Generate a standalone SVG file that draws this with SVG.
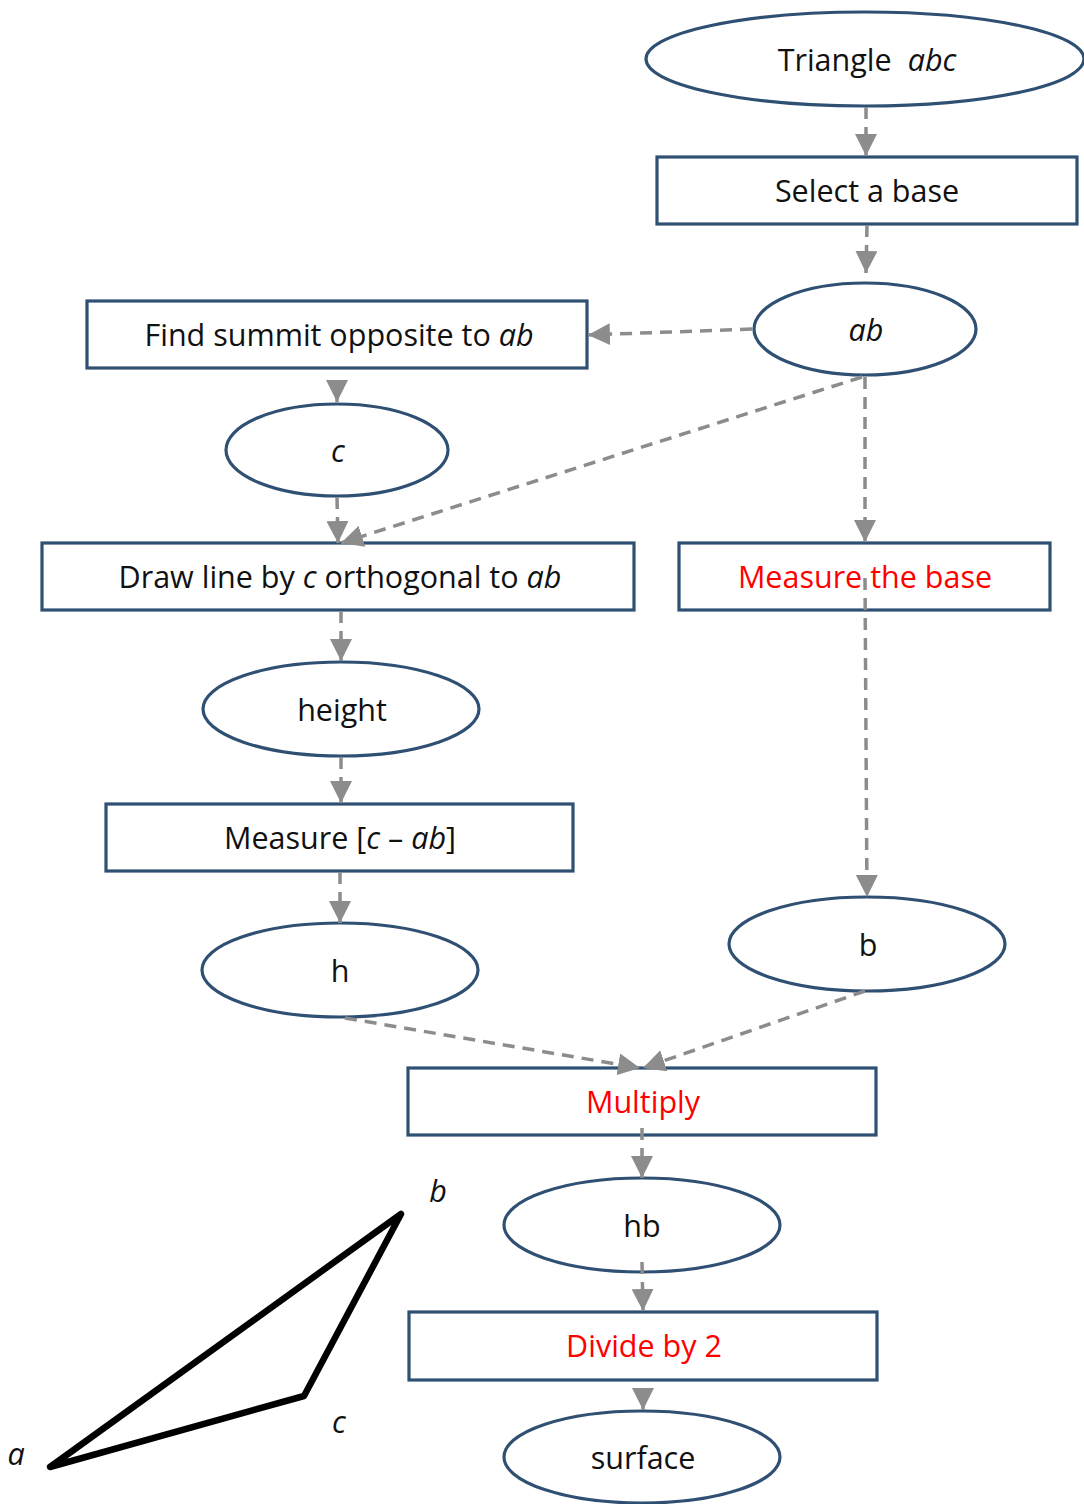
<svg xmlns="http://www.w3.org/2000/svg" width="1084" height="1504" viewBox="0 0 1084 1504">
  <style>
    .node { fill: #ffffff; stroke: #2f5073; stroke-width: 3.2; }
    .lbl { font-family: "Open Sans", Lato, "Liberation Sans", sans-serif; font-size: 30.5px; fill: #111111; text-anchor: middle; }
    .red { fill: #ff0000; }
    .it { font-style: italic; }
    .edge { fill: none; stroke: #8c8c8c; stroke-width: 3.5; stroke-dasharray: 12 8; marker-end: url(#arrow); }
    .tri { fill: none; stroke: #000000; stroke-width: 6.5; stroke-linejoin: round; stroke-linecap: round; }
  </style>
  <defs>
    <marker id="arrow" markerUnits="userSpaceOnUse" markerWidth="22" markerHeight="22" viewBox="0 0 22 22" refX="22" refY="11" orient="auto">
      <path d="M0,0 L22,11 L0,22 z" fill="#8c8c8c"/>
    </marker>
  </defs>

  <!-- nodes -->
  <g id="n-triangle">
    <ellipse class="node" cx="865" cy="59" rx="219" ry="47"/>
    <text class="lbl" x="867" y="71">Triangle<tspan class="it" dx="16">abc</tspan></text>
  </g>
  <g id="n-select">
    <rect class="node" x="657" y="157" width="420" height="67"/>
    <text class="lbl" x="867" y="202">Select a base</text>
  </g>
  <g id="n-ab">
    <ellipse class="node" cx="865" cy="329" rx="111" ry="46"/>
    <text class="lbl it" x="866" y="341">ab</text>
  </g>
  <g id="n-find">
    <rect class="node" x="87" y="301" width="500" height="67"/>
    <text class="lbl" x="339" y="346">Find summit opposite to <tspan class="it">ab</tspan></text>
  </g>
  <g id="n-c">
    <ellipse class="node" cx="337" cy="450" rx="111" ry="46"/>
    <text class="lbl it" x="338" y="462">c</text>
  </g>
  <g id="n-drawline">
    <rect class="node" x="42" y="543" width="592" height="67"/>
    <text class="lbl" x="340" y="588">Draw line by <tspan class="it">c</tspan> orthogonal to <tspan class="it">ab</tspan></text>
  </g>
  <g id="n-measurebase">
    <rect class="node" x="679" y="543" width="371" height="67"/>
    <text class="lbl red" x="865" y="588">Measure the base</text>
  </g>
  <g id="n-height">
    <ellipse class="node" cx="341" cy="709" rx="138" ry="47"/>
    <text class="lbl" x="342" y="721">height</text>
  </g>
  <g id="n-measureca">
    <rect class="node" x="106" y="804" width="467" height="67"/>
    <text class="lbl" x="340" y="849">Measure [<tspan class="it">c</tspan> – <tspan class="it">ab</tspan>]</text>
  </g>
  <g id="n-h">
    <ellipse class="node" cx="340" cy="970" rx="138" ry="47"/>
    <text class="lbl" x="340" y="982">h</text>
  </g>
  <g id="n-b">
    <ellipse class="node" cx="867" cy="944" rx="138" ry="47"/>
    <text class="lbl" x="868" y="956">b</text>
  </g>
  <g id="n-multiply">
    <rect class="node" x="408" y="1068" width="468" height="67"/>
    <text class="lbl red" x="643" y="1113">Multiply</text>
  </g>
  <g id="n-hb">
    <ellipse class="node" cx="642" cy="1225" rx="138" ry="47"/>
    <text class="lbl" x="642" y="1237">hb</text>
  </g>
  <g id="n-divide">
    <rect class="node" x="409" y="1312" width="468" height="68"/>
    <text class="lbl red" x="644" y="1357">Divide by 2</text>
  </g>
  <g id="n-surface">
    <ellipse class="node" cx="642" cy="1457" rx="138" ry="46"/>
    <text class="lbl" x="643" y="1469">surface</text>
  </g>

  <!-- connectors -->
  <g id="connectors">
    <line class="edge" x1="866" y1="107" x2="866" y2="156"/>
    <line class="edge" x1="867" y1="225" x2="866" y2="273"/>
    <line class="edge" x1="752" y1="329" x2="588" y2="335"/>
    <line class="edge" x1="337" y1="390" x2="337" y2="402"/>
    <line class="edge" x1="337" y1="497" x2="338" y2="543"/>
    <line class="edge" x1="862" y1="377" x2="341" y2="543"/>
    <line class="edge" x1="865" y1="377" x2="865" y2="542"/>
    <line class="edge" x1="341" y1="611" x2="341" y2="661"/>
    <line class="edge" x1="341" y1="757" x2="341" y2="803"/>
    <line class="edge" x1="340" y1="872" x2="340" y2="923"/>
    <line class="edge" x1="865" y1="578" x2="867" y2="897"/>
    <line class="edge" x1="345" y1="1018" x2="640" y2="1068"/>
    <line class="edge" x1="865" y1="991" x2="643" y2="1068"/>
    <line class="edge" x1="642" y1="1128" x2="642" y2="1178"/>
    <line class="edge" x1="642" y1="1262" x2="643" y2="1311"/>
    <line class="edge" x1="643" y1="1400" x2="643" y2="1410"/>
  </g>

  <!-- sketch of the triangle -->
  <g id="sketch">
    <polygon class="tri" points="50,1467 401,1214 304,1396"/>
    <text class="lbl it" x="438" y="1202">b</text>
    <text class="lbl it" x="339" y="1433">c</text>
    <text class="lbl it" x="16" y="1465">a</text>
  </g>
</svg>
